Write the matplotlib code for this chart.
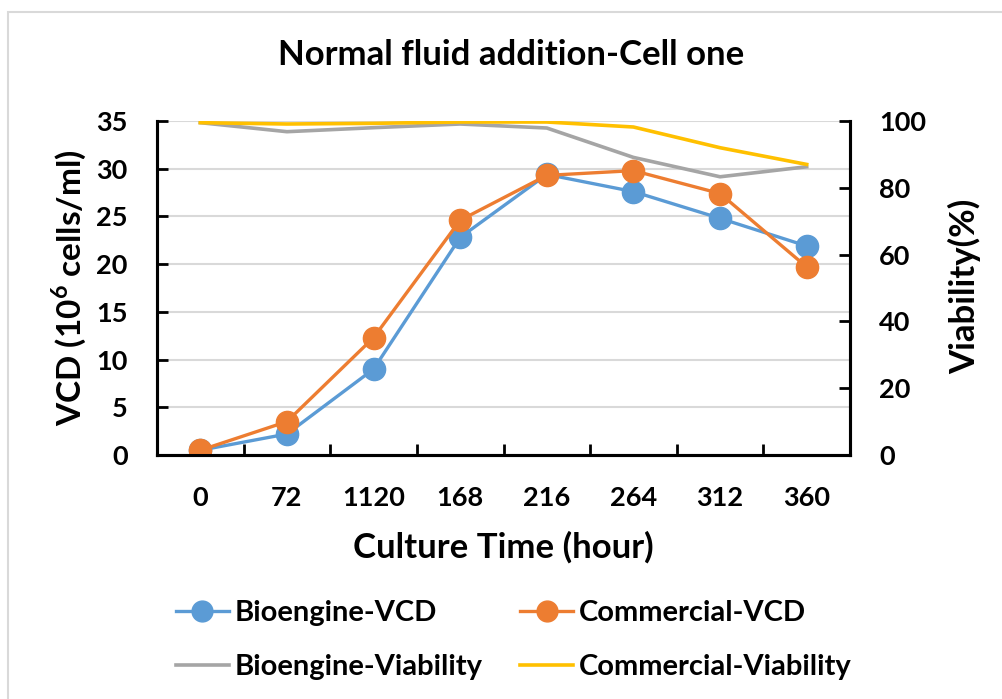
import matplotlib
matplotlib.use('Agg')
import matplotlib.pyplot as plt
from matplotlib.patches import Rectangle
from matplotlib.lines import Line2D

matplotlib.rcParams['font.family'] = ['Lato', 'DejaVu Sans']
matplotlib.rcParams['font.weight'] = 'bold'
matplotlib.rcParams['mathtext.fontset'] = 'custom'
matplotlib.rcParams['mathtext.bf'] = 'Lato:bold'

times = ['0', '72', '1120', '168', '216', '264', '312', '360']
bio_vcd = [0.5, 2.2, 9.0, 22.8, 29.4, 27.6, 24.8, 21.9]
com_vcd = [0.5, 3.5, 12.3, 24.6, 29.3, 29.8, 27.4, 19.7]
bio_via = [99.5, 96.8, 98.0, 99.1, 97.9, 89.1, 83.3, 86.3]
com_via = [99.5, 99.1, 99.3, 99.7, 99.7, 98.2, 92.0, 87.0]

blue = '#5B9BD5'
orange = '#ED7D31'
gray = '#A5A5A5'
gold = '#FFC000'

fig = plt.figure(figsize=(10.02, 6.99), dpi=100)
fig.patches.append(Rectangle((8 / 1002, -0.1), 1.2, (699 - 12) / 699 + 0.1,
                             transform=fig.transFigure, fill=False,
                             edgecolor='#d9d9d9', linewidth=1.5))

ax = fig.add_axes([157 / 1002, (699 - 455) / 699, (850 - 157) / 1002, (455 - 121) / 699])
ax2 = ax.twinx()

x = list(range(len(times)))
ax.plot(x, bio_vcd, color=blue, lw=2.4, marker='o', ms=16, zorder=3)
ax.plot(x, com_vcd, color=orange, lw=2.4, marker='o', ms=16, zorder=4)
ax2.plot(x, bio_via, color=gray, lw=2.6)
ax2.plot(x, com_via, color=gold, lw=2.6)

ax.set_xlim(-0.5, 7.5)
ax.set_ylim(0, 35)
ax2.set_ylim(0, 100)
ax.set_yticks(range(0, 36, 5))
ax2.set_yticks(range(0, 101, 20))
ax.set_xticks(x)
ax.set_xticklabels(times)
ax.set_xticks([i + 0.5 for i in range(7)], minor=True)
ax.yaxis.grid(True, color='#d9d9d9', lw=1.5)
ax.set_axisbelow(True)

ax.tick_params(axis='x', which='major', length=0, pad=22, labelsize=19.5)
ax.tick_params(axis='x', which='minor', length=8, width=2, direction='in')
ax.tick_params(axis='y', length=8, width=2, direction='in', pad=21, labelsize=19.5)
ax2.tick_params(axis='y', length=8, width=2, direction='in', pad=21, labelsize=19.5)

for a in (ax, ax2):
    for s in a.spines.values():
        s.set_linewidth(2.2)
    a.spines['top'].set_visible(False)

for lab in ax.get_yticklabels() + ax.get_xticklabels() + ax2.get_yticklabels():
    lab.set_fontweight('bold')

ax.set_ylabel('VCD (10$^{\\mathbf{6}}$ cells/ml)', fontsize=24, fontweight='bold', va='center')
ax.yaxis.set_label_coords(-0.128, 0.5)
ax2.set_ylabel('Viability(%)', fontsize=25, fontweight='bold', va='center', rotation=90)
ax2.yaxis.set_label_coords(1.166, 0.505)
ax.set_xlabel('Culture Time (hour)', fontsize=25, fontweight='bold', va='center')
ax.xaxis.set_label_coords(0.5, -0.275)
fig.text(511 / 1002, (699 - 55) / 699, 'Normal fluid addition-Cell one', ha='center', va='center',
         fontsize=25, fontweight='bold')

handles = [
    Line2D([], [], color=blue, lw=2.4, marker='o', ms=15),
    Line2D([], [], color=gray, lw=2.6),
    Line2D([], [], color=orange, lw=2.4, marker='o', ms=15),
    Line2D([], [], color=gold, lw=2.6),
]
labels = ['Bioengine-VCD', 'Bioengine-Viability', 'Commercial-VCD', 'Commercial-Viability']
fig.legend(handles, labels, ncol=2, loc='center left',
           bbox_to_anchor=(176 / 1002, (699 - 640) / 699), frameon=False,
           borderpad=0, borderaxespad=0,
           prop={'size': 21, 'weight': 'bold'}, handlelength=1.8, handletextpad=0.2,
           columnspacing=1.3, labelspacing=0.95)

fig.savefig('out.png', dpi=100)
